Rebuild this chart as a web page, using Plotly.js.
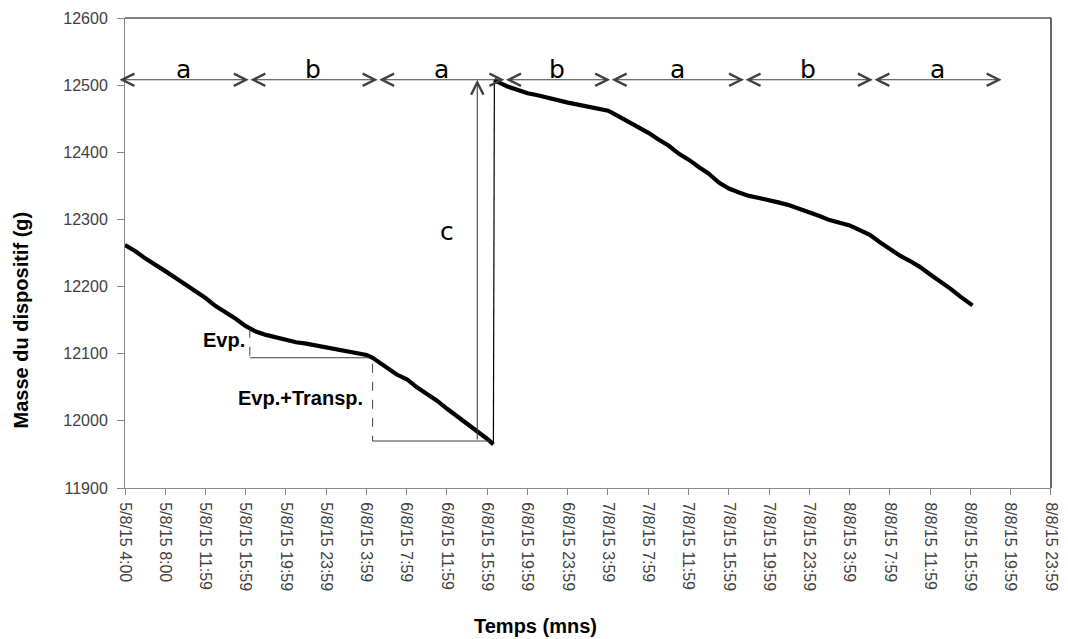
<!DOCTYPE html>
<html>
<head>
<meta charset="utf-8">
<script src="https://cdn.plot.ly/plotly-3.0.1.min.js"></script>
<style>html,body{margin:0;padding:0;background:#fff;}#chart{width:1068px;height:639px;}</style>
</head>
<body>
<div id="chart"></div>
<script>
// ---- Data ----
const timesBefore = [
  '2015-08-05 04:00','2015-08-05 05:00','2015-08-05 06:00','2015-08-05 07:00','2015-08-05 08:00',
  '2015-08-05 09:00','2015-08-05 10:00','2015-08-05 11:00','2015-08-05 12:00','2015-08-05 13:00',
  '2015-08-05 14:00','2015-08-05 15:00','2015-08-05 16:00','2015-08-05 17:00','2015-08-05 18:00',
  '2015-08-05 19:00','2015-08-05 20:00','2015-08-05 21:00','2015-08-05 22:00','2015-08-05 23:00',
  '2015-08-06 00:00','2015-08-06 01:00','2015-08-06 02:00','2015-08-06 03:00','2015-08-06 04:00',
  '2015-08-06 04:36','2015-08-06 05:00','2015-08-06 06:00','2015-08-06 07:00','2015-08-06 08:00',
  '2015-08-06 09:00','2015-08-06 10:00','2015-08-06 11:00','2015-08-06 12:00','2015-08-06 13:00',
  '2015-08-06 14:00','2015-08-06 15:00','2015-08-06 16:00','2015-08-06 16:36'
];
const massBefore = [
  12262,12253,12242,12233,12223,
  12213,12203,12192,12183,12171,
  12162,12152,12141,12133,12128,
  12124,12121,12117,12115,12112,
  12110,12107,12104,12101,12098,
  12094,12090,12080,12069,12062,
  12050,12040,12030,12018,12007,
  11996,11985,11973,11965
];
const timesAfter = [
  '2015-08-06 16:42','2015-08-06 17:00','2015-08-06 18:00','2015-08-06 19:00','2015-08-06 20:00',
  '2015-08-06 21:00','2015-08-06 22:00','2015-08-06 23:00','2015-08-07 00:00','2015-08-07 01:00',
  '2015-08-07 02:00','2015-08-07 03:00','2015-08-07 04:00','2015-08-07 05:00','2015-08-07 06:00',
  '2015-08-07 07:00','2015-08-07 08:00','2015-08-07 09:00','2015-08-07 10:00','2015-08-07 11:00',
  '2015-08-07 12:00','2015-08-07 13:00','2015-08-07 14:00','2015-08-07 15:00','2015-08-07 16:00',
  '2015-08-07 17:00','2015-08-07 18:00','2015-08-07 19:00','2015-08-07 20:00','2015-08-07 21:00',
  '2015-08-07 22:00','2015-08-07 23:00','2015-08-08 00:00','2015-08-08 01:00','2015-08-08 02:00',
  '2015-08-08 03:00','2015-08-08 04:00','2015-08-08 05:00','2015-08-08 06:00','2015-08-08 07:00',
  '2015-08-08 08:00','2015-08-08 09:00','2015-08-08 10:00','2015-08-08 11:00','2015-08-08 12:00',
  '2015-08-08 13:00','2015-08-08 14:00','2015-08-08 15:00','2015-08-08 16:00','2015-08-08 16:12'
];
const massAfter = [
  12508,12505,12498,12493,12488,
  12485,12481,12478,12474,12471,
  12468,12465,12462,12454,12446,
  12437,12429,12419,12410,12398,
  12389,12378,12368,12355,12346,
  12340,12335,12332,12329,12325,
  12321,12316,12311,12305,12299,
  12295,12291,12284,12277,12266,
  12256,12246,12238,12229,12218,
  12208,12197,12185,12175,12172
];

const tickVals = [
  '2015-08-05 04:00','2015-08-05 08:00','2015-08-05 11:59','2015-08-05 15:59','2015-08-05 19:59','2015-08-05 23:59',
  '2015-08-06 03:59','2015-08-06 07:59','2015-08-06 11:59','2015-08-06 15:59','2015-08-06 19:59','2015-08-06 23:59',
  '2015-08-07 03:59','2015-08-07 07:59','2015-08-07 11:59','2015-08-07 15:59','2015-08-07 19:59','2015-08-07 23:59',
  '2015-08-08 03:59','2015-08-08 07:59','2015-08-08 11:59','2015-08-08 15:59','2015-08-08 19:59','2015-08-08 23:59'
];
const tickText = [
  '5/8/15 4:00','5/8/15 8:00','5/8/15 11:59','5/8/15 15:59','5/8/15 19:59','5/8/15 23:59',
  '6/8/15 3:59','6/8/15 7:59','6/8/15 11:59','6/8/15 15:59','6/8/15 19:59','6/8/15 23:59',
  '7/8/15 3:59','7/8/15 7:59','7/8/15 11:59','7/8/15 15:59','7/8/15 19:59','7/8/15 23:59',
  '8/8/15 3:59','8/8/15 7:59','8/8/15 11:59','8/8/15 15:59','8/8/15 19:59','8/8/15 23:59'
];
const yTicks = [11900,12000,12100,12200,12300,12400,12500,12600];
const yTickText = ['11900','12000','12100','12200','12300','12400','12500','12600'];

// phases (a = day, b = night) shown as double arrows
const phaseBounds = ['2015-08-05 03:18','2015-08-05 16:18','2015-08-06 05:06','2015-08-06 17:42',
                     '2015-08-07 04:12','2015-08-07 17:30','2015-08-08 06:18','2015-08-08 19:06'];
const phaseLabels = ['a','b','a','b','a','b','a'];
const phaseLevel = 12508;

// annotation brackets
const evpBracket = {t0:'2015-08-05 16:24', t1:'2015-08-06 04:18', top:12137, bottom:12094};
const evtBracket = {t0:'2015-08-06 04:36', t1:'2015-08-06 16:18', top:12085, bottom:11970};
const cArrow = {t:'2015-08-06 15:00', from:11970, to:12508};

// ---- Chart ----
const tickFont = {family:'Liberation Sans, Arial, sans-serif', size:16, color:'#404040'};
const letterFont = {family:'DejaVu Sans, Verdana, sans-serif', size:25, color:'#000'};
const boldFont = {family:'Liberation Sans, Arial, sans-serif', size:20, color:'#000', weight:'bold'};

const traces = [
  {x: timesBefore, y: massBefore, mode:'lines', line:{color:'#000', width:4.2}, hoverinfo:'skip'},
  {x: [timesBefore[timesBefore.length-1], timesAfter[0]],
   y: [massBefore[massBefore.length-1], massAfter[0]],
   mode:'lines', line:{color:'#000', width:1.2}, hoverinfo:'skip'},
  {x: timesAfter, y: massAfter, mode:'lines', line:{color:'#000', width:4.2}, hoverinfo:'skip'}
];

const ms = s => new Date(s.replace(' ','T')+':00Z').getTime();
const fmt = v => { const d = new Date(v); return d.toISOString().slice(0,16).replace('T',' '); };

const annotations = [];
for (let i = 0; i < phaseLabels.length; i++) {
  annotations.push({
    xref:'x', yref:'y', axref:'x', ayref:'y',
    x: phaseBounds[i+1], y: phaseLevel, ax: phaseBounds[i], ay: phaseLevel,
    text:'', showarrow:true, arrowside:'end+start',
    arrowhead:5, startarrowhead:5, arrowsize:2.2, startarrowsize:2.2,
    arrowwidth:1.1, arrowcolor:'#404040', standoff:0, startstandoff:0
  });
  annotations.push({
    xref:'x', yref:'y',
    x: fmt((ms(phaseBounds[i]) + ms(phaseBounds[i+1]))/2), y: 12524,
    text: phaseLabels[i], showarrow:false, font: letterFont,
    xanchor:'center', yanchor:'middle'
  });
}
annotations.push({
  xref:'x', yref:'y', axref:'x', ayref:'y',
  x: cArrow.t, y: cArrow.to, ax: cArrow.t, ay: cArrow.from,
  text:'', showarrow:true, arrowhead:5, arrowsize:2.2, arrowwidth:1.1,
  arrowcolor:'#404040', standoff:0
});
annotations.push({xref:'x', yref:'y', x:'2015-08-06 12:00', y:12282, text:'c',
  showarrow:false, font: letterFont, xanchor:'center', yanchor:'middle'});
annotations.push({xref:'x', yref:'y', x:'2015-08-05 16:06', y:12120, text:'Evp.',
  showarrow:false, font: boldFont, xanchor:'right', yanchor:'middle'});
annotations.push({xref:'x', yref:'y', x:'2015-08-06 03:48', y:12034, text:'Evp.+Transp.',
  showarrow:false, font: boldFont, xanchor:'right', yanchor:'middle'});
annotations.push({xref:'paper', yref:'paper', x:-0.112, y:0.357, text:'Masse du dispositif (g)',
  textangle:-90, showarrow:false, font: boldFont, xanchor:'center', yanchor:'middle'});
annotations.push({xref:'paper', yref:'paper', x:0.4428, y:-0.294, text:'Temps (mns)',
  showarrow:false, font: boldFont, xanchor:'center', yanchor:'middle'});

const shapes = [
  {type:'line', xref:'paper', yref:'paper', x0:0, x1:1, y0:1, y1:1, line:{color:'#000', width:1.2}},
  {type:'line', xref:'paper', yref:'paper', x0:1, x1:1, y0:0, y1:1, line:{color:'#000', width:1.2}},
  {type:'line', xref:'x', yref:'y', x0:evpBracket.t0, x1:evpBracket.t0, y0:evpBracket.top, y1:evpBracket.bottom,
   line:{color:'#404040', width:1, dash:'dash'}},
  {type:'line', xref:'x', yref:'y', x0:evpBracket.t0, x1:evpBracket.t1, y0:evpBracket.bottom, y1:evpBracket.bottom,
   line:{color:'#404040', width:1}},
  {type:'line', xref:'x', yref:'y', x0:evtBracket.t0, x1:evtBracket.t0, y0:evtBracket.top, y1:evtBracket.bottom,
   line:{color:'#404040', width:1, dash:'dash'}},
  {type:'line', xref:'x', yref:'y', x0:evtBracket.t0, x1:evtBracket.t1, y0:evtBracket.bottom, y1:evtBracket.bottom,
   line:{color:'#404040', width:1}}
];

const layout = {
  width:1068, height:639,
  margin:{l:125, r:17, t:18, b:151, pad:0},
  paper_bgcolor:'#fff', plot_bgcolor:'#fff',
  showlegend:false,
  font:{family:'Liberation Sans, Arial, sans-serif'},
  xaxis:{
    type:'date', range:['2015-08-05 04:00','2015-08-09 00:00'],
    tickmode:'array', tickvals: tickVals, ticktext: tickText, tickangle:90,
    tickfont: tickFont, ticks:'outside', ticklen:6, tickcolor:'#868686', tickwidth:1,
    showline:true, linecolor:'#868686', linewidth:1, showgrid:false, zeroline:false,
    ticklabelstandoff:4
  },
  yaxis:{
    range:[11900,12600], tickmode:'array', tickvals: yTicks, ticktext: yTickText,
    tickfont: tickFont, ticks:'outside', ticklen:7, tickcolor:'#868686', tickwidth:1,
    showline:true, linecolor:'#868686', linewidth:1, showgrid:false, zeroline:false,
    ticklabelstandoff:6
  },
  annotations: annotations,
  shapes: shapes
};

Plotly.newPlot('chart', traces, layout, {displayModeBar:false, staticPlot:true});
</script>
</body>
</html>
